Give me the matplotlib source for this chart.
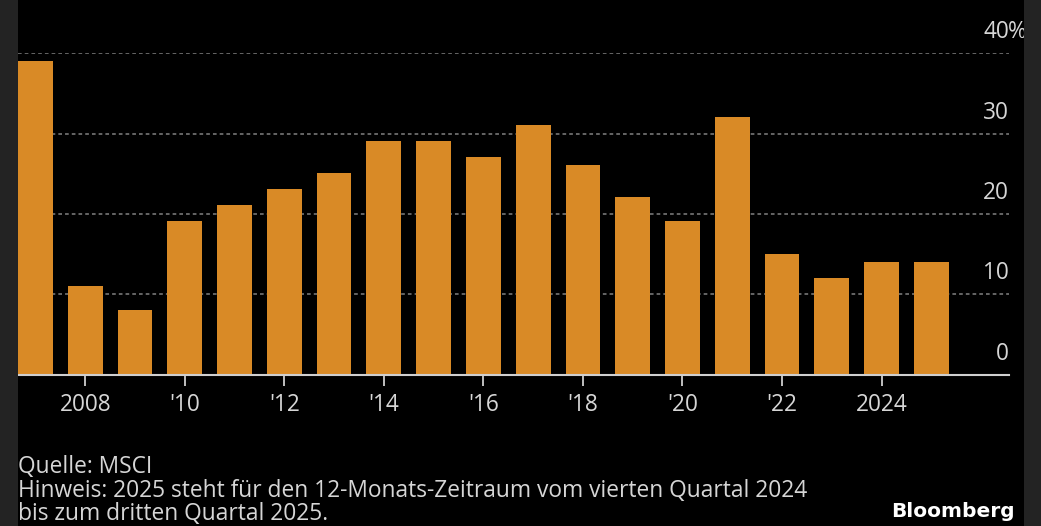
import matplotlib
matplotlib.use("Agg")
import matplotlib.pyplot as plt
from matplotlib.patches import Rectangle
from matplotlib.transforms import blended_transform_factory, offset_copy

# ---- data ----
years = list(range(2007, 2026))
values = [39.0, 11.0, 8.0, 19.1, 21.1, 23.1, 25.1, 29.1, 29.1, 27.1,
          31.1, 26.1, 22.1, 19.1, 32.1, 15.0, 12.0, 14.0, 14.0]
xtick_years = [2008, 2010, 2012, 2014, 2016, 2018, 2020, 2022, 2024]
xtick_labels = ["2008", "'10", "'12", "'14", "'16", "'18", "'20", "'22", "2024"]
ytick_values = [0, 10, 20, 30, 40]
ytick_labels = ["0", "10", "20", "30", "40"]
source_text = "Quelle: MSCI"
note_lines = ["Hinweis: 2025 steht für den 12-Monats-Zeitraum vom vierten Quartal 2024",
              "bis zum dritten Quartal 2025."]

W, H = 1041, 526
DPI = 100
BAR = "#d98a26"
TXT = "#d6d6d6"
FONT = ["Open Sans", "DejaVu Sans"]

fig = plt.figure(figsize=(W / DPI, H / DPI), dpi=DPI, facecolor="black")

# side strips
fig.patches.append(Rectangle((0, 0), 18 / W, 1, transform=fig.transFigure,
                             facecolor="#232323", edgecolor="none", zorder=0))
fig.patches.append(Rectangle((1024 / W, 0), 17 / W, 1, transform=fig.transFigure,
                             facecolor="#232323", edgecolor="none", zorder=0))

left_px, right_px = 18, 1009
top_px, bot_px = 53.3, 374.5
ax = fig.add_axes([left_px / W, 1 - bot_px / H, (right_px - left_px) / W, (bot_px - top_px) / H])
ax.set_facecolor("black")
ax.patch.set_alpha(0)

ax.bar(years, values, width=0.7, color=BAR, zorder=2)
ax.set_xlim(2006.65, 2026.56)
ax.set_ylim(0, 40)

for s in ["top", "right", "left"]:
    ax.spines[s].set_visible(False)
ax.spines["bottom"].set_color("#cfcfcf")
ax.spines["bottom"].set_linewidth(1.5)
ax.spines["bottom"].set_zorder(3)

# gridlines
for v in ytick_values[1:]:
    ax.axhline(v, color="#808080", lw=1.1, dashes=(2.4, 2.0), zorder=1)

ax.set_yticks([])
ax.set_xticks(xtick_years)
ax.set_xticklabels(xtick_labels, fontsize=16.3, color=TXT, family=FONT)
ax.tick_params(axis="x", direction="out", length=8, width=1.3, color="#cfcfcf", pad=5)

# y labels above gridlines, right aligned at axes right
trans = blended_transform_factory(ax.transAxes, ax.transData)
trans_off = offset_copy(trans, fig=fig, x=0, y=15 * 72 / DPI, units="points")
for v, lab in zip(ytick_values, ytick_labels):
    ax.text(1.0, v, lab, transform=trans_off, ha="right", va="baseline",
            fontsize=16.3, color=TXT, family=FONT, clip_on=False)
    if v == ytick_values[-1]:
        ax.text(1.0, v, "%", transform=offset_copy(trans_off, fig=fig, x=-0.5, y=0, units="points"),
                ha="left", va="baseline", fontsize=16.3, color=TXT, family=FONT, clip_on=False)

# footnotes
FN = 16.4
fig.text(18 / W, 1 - 473 / H, source_text, ha="left", va="baseline",
         fontsize=FN, color=TXT, family=FONT)
fig.text(18 / W, 1 - 497 / H, note_lines[0], ha="left", va="baseline",
         fontsize=FN, color=TXT, family=FONT)
fig.text(18 / W, 1 - 520 / H, note_lines[1], ha="left", va="baseline",
         fontsize=FN, color=TXT, family=FONT)
fig.text(1015 / W, 1 - 517 / H, "Bloomberg", ha="right", va="baseline",
         fontsize=14.5, color="white", family="DejaVu Sans", fontweight="bold")

fig.savefig("out.png", dpi=DPI, facecolor="black")
